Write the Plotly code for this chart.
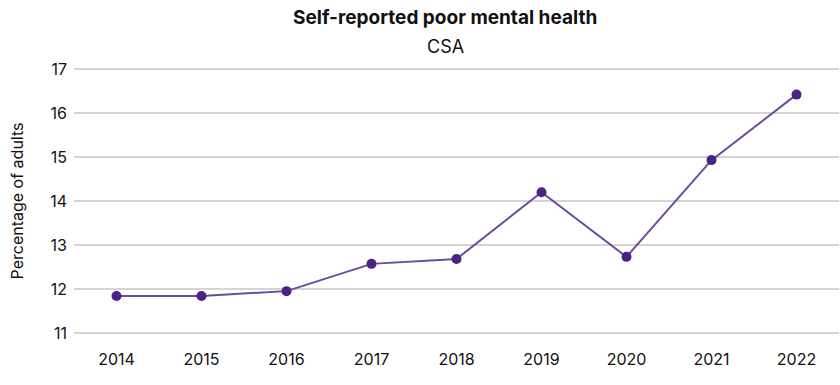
import plotly.graph_objects as go

years = ["2014", "2015", "2016", "2017", "2018", "2019", "2020", "2021", "2022"]
values = [11.84, 11.84, 11.95, 12.57, 12.68, 14.20, 12.73, 14.93, 16.42]
y_ticks = [11, 12, 13, 14, 15, 16, 17]

title_text = "Self-reported poor mental health"
subtitle_text = "CSA"
y_title = "Percentage of adults"

FONT = "Inter, Roboto, sans-serif"

fig = go.Figure()
fig.add_trace(go.Scatter(
    x=years, y=values, mode="lines+markers",
    line=dict(color="#6a4c9c", width=2),
    marker=dict(color="#4b2382", size=10),
    hoverinfo="x+y",
))

W, H = 840, 385
ml, mr, mt, mb = 74, 1, 68, 51
pad = 0.025

fig.update_layout(
    width=W, height=H,
    margin=dict(l=ml, r=mr, t=mt, b=mb),
    paper_bgcolor="white", plot_bgcolor="white",
    font=dict(family=FONT, size=16, color="#111111"),
    showlegend=False,
    xaxis=dict(
        type="category", range=[-0.5, 8.5],
        showgrid=False, zeroline=False, showline=False,
        ticks="", ticklabelstandoff=14,
        tickfont=dict(size=16, color="#111111"),
    ),
    yaxis=dict(
        range=[11 - pad, 17 + pad], tickvals=y_ticks, ticktext=[str(v) for v in y_ticks],
        showgrid=True, gridcolor="#d4d4d4", gridwidth=1.5,
        zeroline=False, showline=False, ticks="",
        ticklabelstandoff=6,
        tickfont=dict(size=16, color="#111111"),
        title=dict(text=y_title, font=dict(size=16, color="#111111"), standoff=22),
    ),
    annotations=[
        dict(text="<b>" + title_text + "</b>", xref="paper", yref="paper",
             x=(445 - ml) / (W - ml - mr), y=1 + (mt - 18) / (H - mt - mb),
             xanchor="center", yanchor="middle", showarrow=False,
             font=dict(size=19, color="#111111", family=FONT)),
        dict(text=subtitle_text, xref="paper", yref="paper",
             x=(445 - ml) / (W - ml - mr), y=1 + (mt - 46) / (H - mt - mb),
             xanchor="center", yanchor="middle", showarrow=False,
             font=dict(size=18, color="#111111", family=FONT)),
    ],
)

fig.write_html("out.html")
